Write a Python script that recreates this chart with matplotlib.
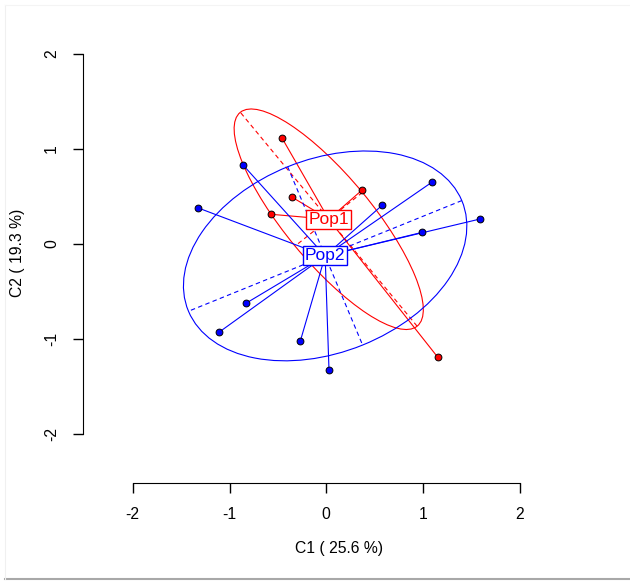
import numpy as np
import matplotlib.pyplot as plt
from matplotlib.patches import Ellipse

plt.rcParams['font.family'] = ['Liberation Sans', 'DejaVu Sans']

# scores on the first two axes
pop1_x = [-0.46, 0.366, -0.357, -0.574, 1.15]
pop1_y = [1.12, 0.565, 0.495, 0.313, -1.19]
pop2_x = [-0.857, -1.33, 1.089, 0.579, 1.588, 0.992, -0.83, -1.11, -0.269, 0.028]
pop2_y = [0.828, 0.382, 0.649, 0.41, 0.263, 0.123, -0.624, -0.93, -1.024, -1.33]
groups = ['Pop1', 'Pop2']
colors = ['red', 'blue']
ticks = [-2, -1, 0, 1, 2]

fig = plt.figure(figsize=(6.3, 5.81), dpi=100)
ax = fig.add_axes([0, 0, 1, 1])
# pixel mapping: x0 at 326.3px, 96.8 px/unit ; y0 at 244px, 95 px/unit
ax.set_xlim((0 - 326.3) / 96.8, (630 - 326.3) / 96.8)
ax.set_ylim((244 - 581) / 95, (244 - 0) / 95)

cell = 1.5
for xs, ys, name, col in [(pop1_x, pop1_y, groups[0], colors[0]),
                          (pop2_x, pop2_y, groups[1], colors[1])]:
    xs = np.array(xs); ys = np.array(ys)
    mx, my = xs.mean(), ys.mean()
    cov = np.cov(xs, ys, bias=True)
    vals, vecs = np.linalg.eigh(cov)
    # star
    for px, py in zip(xs, ys):
        ax.plot([mx, px], [my, py], color=col, lw=0.8, zorder=2)
    # ellipse + its axes
    big = vecs[:, 1]
    ang = np.degrees(np.arctan2(big[1], big[0]))
    ax.add_patch(Ellipse((mx, my), 2 * cell * np.sqrt(vals[1]), 2 * cell * np.sqrt(vals[0]),
                         angle=ang, fill=False, edgecolor=col, lw=0.8, zorder=2))
    for k in range(2):
        d = vecs[:, k] * cell * np.sqrt(vals[k])
        ax.plot([mx - d[0], mx + d[0]], [my - d[1], my + d[1]], color=col, lw=0.8,
                ls=(0, (4, 3)), zorder=2)
    ax.scatter(xs, ys, s=24, c=col, edgecolors='black', linewidths=0.7, zorder=3)
    ax.text(mx, my, name, color=col, fontsize=12.5, ha='center', va='center', zorder=5,
            bbox=dict(boxstyle='square,pad=0.12', fc='white', ec=col, lw=1))

for s in ['top', 'right']:
    ax.spines[s].set_visible(False)
ax.spines['left'].set_position(('data', (82.5 - 326.3) / 96.8))
ax.spines['bottom'].set_position(('data', (244 - 483.3) / 95))
ax.spines['left'].set_bounds(-2, 2)
ax.spines['bottom'].set_bounds(-2, 2)
ax.set_xticks(ticks)
ax.set_yticks(ticks)
ax.set_xticklabels([str(t) for t in ticks])
ax.set_yticklabels([str(t) for t in ticks], rotation=90, va='center')
ax.tick_params(direction='out', length=7, width=1, labelsize=11.3, pad=10)
ax.patch.set_visible(False)

fig.text(339 / 630, 1 - 548 / 581, 'C1 ( 25.6 %)', fontsize=11.3, ha='center', va='center')
fig.text(17.5 / 630, 1 - 253 / 581, 'C2 ( 19.3 %)', fontsize=11.3, ha='center', va='center',
         rotation=90)

# faint frame / shadow of the original screenshot
fig.add_artist(plt.Line2D([5 / 630, 1], [1 - 579 / 581] * 2, color='#a8a8a8', lw=1.5))
fig.add_artist(plt.Line2D([4.5 / 630] * 2, [1 - 579 / 581, 1 - 5 / 581], color='#f0f0f0', lw=0.8))
fig.add_artist(plt.Line2D([4.5 / 630, 1], [1 - 5 / 581] * 2, color='#f4f4f4', lw=0.8))

fig.savefig('out.png', dpi=100)
